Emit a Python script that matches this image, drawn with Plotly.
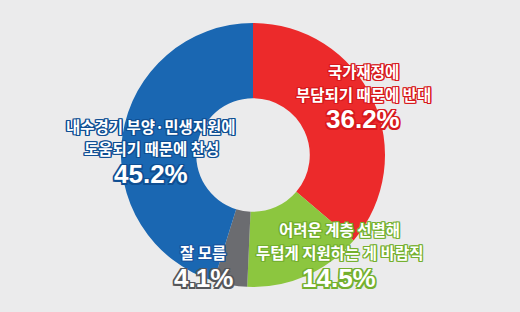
import plotly.graph_objects as go

categories = ["국가재정에 부담되기 때문에 반대", "어려운 계층 선별해 두텁게 지원하는 게 바람직",
              "잘 모름", "내수경기 부양·민생지원에 도움되기 때문에 찬성"]
values = [36.2, 14.5, 4.1, 45.2]
colors = ["#ec2a2b", "#8cc63f", "#6b6c70", "#1a67b2"]

# label lines per slice
label_lines = [
    ["국가재정에", "부담되기 때문에 반대"],
    ["어려운 계층 선별해", "두텁게 지원하는 게 바람직"],
    ["잘 모름"],
    ["내수경기 부양·민생지원에", "도움되기 때문에 찬성"],
]
pct_labels = ["36.2%", "14.5%", "4.1%", "45.2%"]

W, H = 520, 312
cx, cy, R = 253, 155, 132

fig = go.Figure(go.Pie(
    labels=categories, values=values, sort=False, direction="clockwise",
    rotation=0, hole=0.43,
    marker=dict(colors=colors, line=dict(width=0)),
    textinfo="none", hoverinfo="label+percent", showlegend=False,
    domain=dict(x=[(cx - R) / W, (cx + R) / W], y=[(H - cy - R) / H, (H - cy + R) / H]),
))

# label positions (px): center x, line y's, percent y
layouts = [
    dict(x=363, ys=[71, 93.5], py=119.5, outline="#d7191c"),
    dict(x=339, ys=[229, 251.5], py=277.5, outline="#74b02e"),
    dict(x=203, ys=[251.5], py=277.5, outline="#1a55a0"),
    dict(x=151, ys=[125.5, 148], py=174, outline="#0f4f93"),
]
pct_outline = ["#d7191c", "#74b02e", "#55565a", "#0f4f93"]

def shadow(c, w=1.2):
    parts = []
    for dx in (-w, 0, w):
        for dy in (-w, 0, w):
            if dx or dy:
                parts.append(f"{dx}px {dy}px 0 {c}")
    return ", ".join(parts)

annotations = []
for lines, pct, lay, po in zip(label_lines, pct_labels, layouts, pct_outline):
    for t, y in zip(lines, lay["ys"]):
        annotations.append(dict(
            x=lay["x"] / W, y=1 - y / H, xref="paper", yref="paper", text=t,
            showarrow=False, xanchor="center", yanchor="middle",
            font=dict(family="Noto Sans CJK KR", size=15.5, color="white", weight=700,
                      shadow=shadow(lay["outline"])),
        ))
    annotations.append(dict(
        x=lay["x"] / W, y=1 - lay["py"] / H, xref="paper", yref="paper", text=pct,
        showarrow=False, xanchor="center", yanchor="middle",
        font=dict(family="Liberation Sans", size=26, color="white", weight=700,
                  shadow=shadow(po, 1.5)),
    ))

fig.update_layout(
    width=W, height=H, margin=dict(l=0, r=0, t=0, b=0),
    paper_bgcolor="#ebebec", plot_bgcolor="#ebebec",
    annotations=annotations,
)
fig.write_html("out.html")
